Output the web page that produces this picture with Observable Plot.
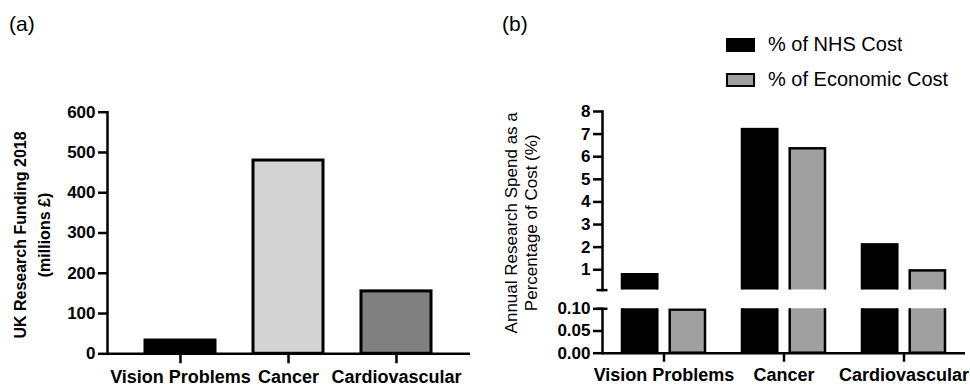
<!DOCTYPE html>
<html>
<head>
<meta charset="utf-8">
<script src="https://cdn.jsdelivr.net/npm/d3@7"></script>
<script src="https://cdn.jsdelivr.net/npm/@observablehq/plot@0.6"></script>
<style>
  body { margin: 0; background: #fff; }
  #wrap { position: relative; width: 970px; height: 389px; font-family: "Liberation Sans", Arial, sans-serif; color: #000; overflow: hidden; }
  .panel { position: absolute; top: 0; width: 480px; height: 389px; }
  .tag { position: absolute; font-size: 21px; line-height: 21px; }
  #legend { position: absolute; left: 727px; top: 27px; }
  .lg-swatches { font-family: "Liberation Sans", Arial, sans-serif !important; font-size: 20px !important; color: #000; margin: 0 !important; }
  .lg-swatch { height: 35px; padding-bottom: 0 !important; }
  .lg-swatch > svg { margin-right: 14px !important; }
  .lg-swatch rect { stroke: #000; stroke-width: 2px; }
</style>
</head>
<body>
<div id="wrap">
  <div class="tag" style="left:9px;top:13px;">(a)</div>
  <div class="tag" style="left:502px;top:13px;">(b)</div>
  <div class="panel" id="pa" style="left:0px;"></div>
  <div class="panel" id="pbu" style="left:490px;"></div>
  <div class="panel" id="pbl" style="left:490px;"></div>
  <div id="legend"></div>
</div>
<script>
// ---- data ----
const categories = ["Vision Problems", "Cancer", "Cardiovascular"];
const funding2018 = [33, 480, 155];             // millions £
const fundingColors = ["#000000", "#d3d3d3", "#808080"];
const fundingTicks = [0, 100, 200, 300, 400, 500, 600];

const seriesNames = ["% of NHS Cost", "% of Economic Cost"];
const seriesColors = ["#000000", "#a0a0a0"];
const nhsPercent = [0.78, 7.2, 2.1];
const economicPercent = [0.097, 6.35, 0.95];
const upperTicks = [1, 2, 3, 4, 5, 6, 7, 8];
const lowerTicks = [0, 0.05, 0.10];
const axisBreak = 0.1;
const upperMax = 8;

const labelA = "UK Research Funding 2018\n(millions £)";
const labelB = "Annual Research Spend as a\nPercentage of Cost (%)";

// ---- shared ----
const FONT = "'Liberation Sans', Arial, sans-serif";
const AX = 2.5;
const baseStyle = {fontFamily: FONT, fontSize: "17px", fontWeight: "bold", color: "#000", background: "transparent", overflow: "visible"};

// ---- panel (a) ----
const fundingData = categories.map((c, i) => ({category: c, value: funding2018[i]}));
const plotA = Plot.plot({
  width: 480, height: 389,
  marginLeft: 107, marginRight: 10, marginTop: 111.7, marginBottom: 35.7,
  style: baseStyle,
  x: {domain: categories, padding: 0.35, label: null},
  y: {domain: [0, 600], label: null},
  color: {domain: categories, range: fundingColors},
  marks: [
    Plot.barY(fundingData, {x: "category", y: "value", fill: "category", stroke: "#000", strokeWidth: 3}),
    Plot.axisY({ticks: fundingTicks, tickSize: 9, tickPadding: 3, strokeWidth: AX, label: null}),
    Plot.axisX({tickSize: 10, tickPadding: 6, strokeWidth: AX, fontSize: 18, label: null}),
    Plot.frame({anchor: "left", strokeWidth: AX}),
    Plot.ruleY([0], {strokeWidth: AX}),
    Plot.text([labelA], {frameAnchor: "left", textAnchor: "middle", rotate: -90, dx: -77, dy: 2, lineHeight: 1.5, fontSize: 16, fontWeight: "bold"})
  ]
});
document.getElementById("pa").append(plotA);

// ---- panel (b) ----
const pctData = categories.flatMap((c, i) => [
  {category: c, series: seriesNames[0], value: nhsPercent[i]},
  {category: c, series: seriesNames[1], value: economicPercent[i]}
]);
const nhsData = pctData.filter(d => d.series === seriesNames[0]);
const ecoData = pctData.filter(d => d.series === seriesNames[1]);
const barInset = 47.7;
const xB = {domain: categories, paddingInner: 0.31, paddingOuter: 0.16, label: null};
const colorB = {domain: seriesNames, range: seriesColors};
const barsB = (keep) => [
  Plot.barY(nhsData, {filter: keep, x: "category", y1: 0, y2: "value", fill: "series", stroke: "#000", strokeWidth: 2.5, insetRight: barInset, clip: true}),
  Plot.barY(ecoData, {filter: keep, x: "category", y1: 0, y2: "value", fill: "series", stroke: "#000", strokeWidth: 2.5, insetLeft: barInset, clip: true})
];

const plotBU = Plot.plot({
  width: 480, height: 389,
  marginLeft: 112, marginRight: 5, marginTop: 111, marginBottom: 99.4,
  style: baseStyle,
  x: {...xB, axis: null},
  y: {domain: [axisBreak, upperMax], label: null},
  color: colorB,
  marks: [
    ...barsB(d => d.value > axisBreak),
    Plot.axisY({ticks: upperTicks, tickSize: 9, tickPadding: 3, strokeWidth: AX, label: null}),
    Plot.axisY({ticks: [axisBreak], tickSize: 11, dx: 5.5, strokeWidth: AX, tickFormat: () => "", label: null}),
    Plot.frame({anchor: "left", strokeWidth: AX}),
    Plot.text([labelB], {frameAnchor: "left", textAnchor: "middle", rotate: -90, dx: -82, dy: 22, lineHeight: 1.18, fontSize: 17, fontWeight: "normal"})
  ]
});
document.getElementById("pbu").append(plotBU);

const plotBL = Plot.plot({
  width: 480, height: 389,
  marginLeft: 112, marginRight: 5, marginTop: 308.3, marginBottom: 36.3,
  style: baseStyle,
  x: xB,
  y: {domain: [0, axisBreak], label: null},
  color: colorB,
  marks: [
    ...barsB(() => true),
    Plot.axisY({ticks: lowerTicks, tickFormat: ".2f", tickSize: 9, tickPadding: 3, strokeWidth: AX, label: null}),
    Plot.axisY({ticks: [axisBreak], tickSize: 11, dx: 5.5, strokeWidth: AX, tickFormat: () => "", label: null}),
    Plot.axisX({tickSize: 9, tickPadding: 6, strokeWidth: AX, fontSize: 18, label: null}),
    Plot.frame({anchor: "left", strokeWidth: AX}),
    Plot.ruleY([0], {strokeWidth: AX})
  ]
});
document.getElementById("pbl").append(plotBL);

// ---- legend ----
const leg = Plot.legend({
  color: colorB, legend: "swatches", columns: 1,
  swatchWidth: 27, swatchHeight: 12, className: "lg"
});
document.getElementById("legend").append(leg);
</script>
</body>
</html>
